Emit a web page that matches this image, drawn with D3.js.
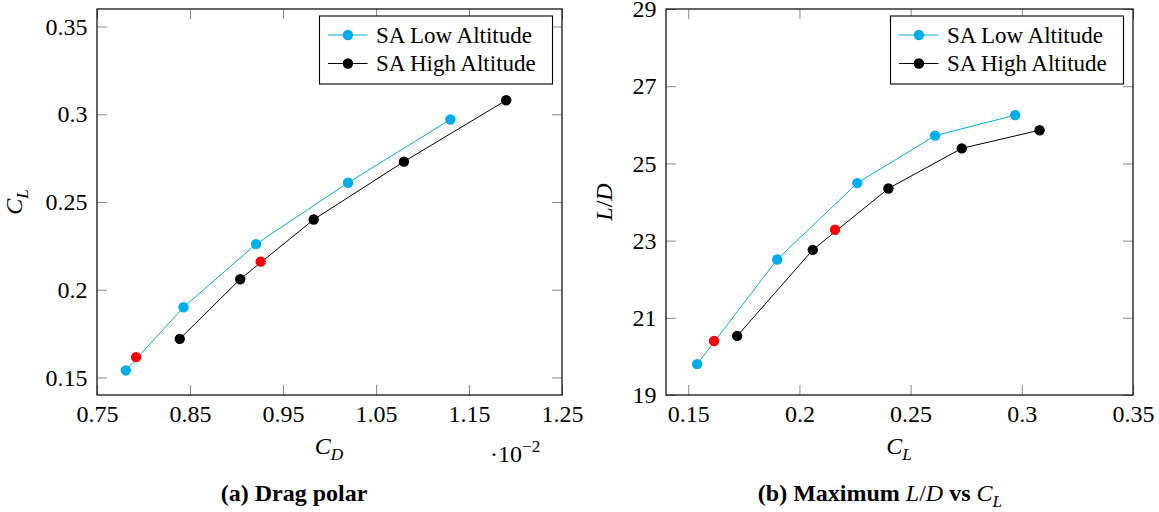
<!DOCTYPE html>
<html><head><meta charset="utf-8">
<script src="https://cdn.jsdelivr.net/npm/d3@7"></script>
<style>
html,body{margin:0;padding:0;background:#fff;}
</style></head><body>
<svg id="chart" width="1159" height="512"></svg>
<script>
// Drag coefficient (x 10^-2), lift coefficient and lift-to-drag ratio per altitude
const cdLow  = [0.781, 0.843, 0.921, 1.020, 1.130];
const clLow  = [0.154, 0.190, 0.226, 0.261, 0.297];
const ldLow  = [19.80, 22.51, 24.49, 25.72, 26.25];
const cdHigh = [0.839, 0.904, 0.983, 1.080, 1.190];
const clHigh = [0.172, 0.206, 0.240, 0.273, 0.308];
const ldHigh = [20.53, 22.76, 24.35, 25.39, 25.86];
// Selected operating points (low altitude, high altitude)
const cdDesign = [0.792, 0.926];
const clDesign = [0.1616, 0.216];
const ldDesign = [20.40, 23.28];

const seriesNames = ["SA Low Altitude", "SA High Altitude"];
const cdTicks = [0.75, 0.85, 0.95, 1.05, 1.15, 1.25];
const cdTickLabels = ["0.75", "0.85", "0.95", "1.05", "1.15", "1.25"];
const clTicks = [0.15, 0.2, 0.25, 0.3, 0.35];
const clTickLabels = ["0.15", "0.2", "0.25", "0.3", "0.35"];
const ldTicks = [19, 21, 23, 25, 27, 29];
const ldTickLabels = ["19", "21", "23", "25", "27", "29"];

const colors = ["#00AEEF", "#000000"];
const designColor = "#FF0000";
const FONT = "\"Liberation Serif\", serif";
const FS = 24;        // tick labels, axis titles, captions
const FS_LEGEND = 23; // legend entries
const svg = d3.select("#chart");

function font(sel, size) {
  return sel.style("font-family", FONT).style("font-size", (size || FS) + "px");
}

function labelFor(ticks, labels) {
  return v => labels[ticks.indexOf(v)];
}

function styleAxis(g) {
  g.attr("font-family", null).attr("font-size", null);
  g.select(".domain").remove();
  g.selectAll(".tick line").attr("stroke", "#8a8a8a").attr("stroke-width", 1);
  g.selectAll(".tick text").attr("fill", "#000").call(font);
}

function drawPanel(o) {
  const x = d3.scaleLinear().domain(o.xDomain).range([o.left, o.right]);
  const y = d3.scaleLinear().domain(o.yDomain).range([o.bottom, o.top]);
  const g = svg.append("g");
  const tk = 10;

  g.append("g").attr("transform", `translate(0,${o.bottom})`)
    .call(d3.axisBottom(x).tickValues(o.xTicks).tickFormat(labelFor(o.xTicks, o.xLabels))
      .tickSizeInner(-tk).tickSizeOuter(0).tickPadding(9.5))
    .call(styleAxis);
  g.append("g").attr("transform", `translate(0,${o.top})`)
    .call(d3.axisTop(x).tickValues(o.xTicks).tickFormat("").tickSizeInner(-tk).tickSizeOuter(0))
    .call(styleAxis);
  g.append("g").attr("transform", `translate(${o.left},0)`)
    .call(d3.axisLeft(y).tickValues(o.yTicks).tickFormat(labelFor(o.yTicks, o.yLabels))
      .tickSizeInner(-tk).tickSizeOuter(0).tickPadding(9.5))
    .call(styleAxis);
  g.append("g").attr("transform", `translate(${o.right},0)`)
    .call(d3.axisRight(y).tickValues(o.yTicks).tickFormat("").tickSizeInner(-tk).tickSizeOuter(0))
    .call(styleAxis);

  g.append("rect")
    .attr("x", o.left).attr("y", o.top)
    .attr("width", o.right - o.left).attr("height", o.bottom - o.top)
    .attr("fill", "none").attr("stroke", "#000").attr("stroke-width", 1.2);

  const line = d3.line().x(d => x(d[0])).y(d => y(d[1]));
  o.series.forEach((s, i) => {
    const pts = d3.zip(s.xs, s.ys);
    g.append("path").datum(pts).attr("d", line)
      .attr("fill", "none").attr("stroke", colors[i]).attr("stroke-width", 1);
    g.append("g").selectAll("circle").data(pts).join("circle")
      .attr("cx", d => x(d[0])).attr("cy", d => y(d[1])).attr("r", 5.2)
      .attr("fill", colors[i]);
  });
  g.append("g").selectAll("circle").data(d3.zip(o.design.xs, o.design.ys)).join("circle")
    .attr("cx", d => x(d[0])).attr("cy", d => y(d[1])).attr("r", 5.2)
    .attr("fill", designColor);

  // legend
  const lw = 233, lh = 68;
  const lx = o.right - 9.5 - lw, ly = o.top + 7;
  const lg = g.append("g").attr("transform", `translate(${lx},${ly})`);
  lg.append("rect").attr("width", lw).attr("height", lh)
    .attr("fill", "#fff").attr("stroke", "#000").attr("stroke-width", 1.1);
  seriesNames.forEach((name, i) => {
    const cy = 19 + i * 28.5;
    lg.append("line").attr("x1", 8.5).attr("x2", 48).attr("y1", cy).attr("y2", cy)
      .attr("stroke", colors[i]).attr("stroke-width", 1);
    lg.append("circle").attr("cx", 28.4).attr("cy", cy).attr("r", 5.2).attr("fill", colors[i]);
    lg.append("text").attr("x", 56.5).attr("y", cy + 7.6).call(font, FS_LEGEND).text(name);
  });
  return { x, y, g };
}

// math-style label: array of [text, style] where style in {"", "i", "sub", "sup", "b"}
function richText(parent, parts, attrs) {
  const t = parent.append("text").call(font);
  Object.entries(attrs).forEach(([k, v]) => t.attr(k, v));
  parts.forEach(([s, st]) => {
    const sp = t.append("tspan").text(s);
    if (st === "i") sp.style("font-style", "italic");
    if (st === "b") sp.style("font-weight", "bold");
    if (st === "sub") sp.style("font-style", "italic").style("font-size", (FS * 0.72) + "px").attr("dy", "0.35em");
    if (st === "sup") sp.style("font-size", (FS * 0.72) + "px").attr("dy", "-0.55em");
  });
  return t;
}

// (a) drag polar
drawPanel({
  left: 97, right: 562, top: 9, bottom: 395,
  xDomain: [0.75, 1.25], yDomain: [0.14, 0.36],
  xTicks: cdTicks, xLabels: cdTickLabels, yTicks: clTicks, yLabels: clTickLabels,
  series: [{ xs: cdLow, ys: clLow }, { xs: cdHigh, ys: clHigh }],
  design: { xs: cdDesign, ys: clDesign }
});

// (b) L/D against lift coefficient
drawPanel({
  left: 666, right: 1133, top: 9, bottom: 395,
  xDomain: [0.14, 0.35], yDomain: [19, 29],
  xTicks: clTicks, xLabels: clTickLabels, yTicks: ldTicks, yLabels: ldTickLabels,
  series: [{ xs: clLow, ys: ldLow }, { xs: clHigh, ys: ldHigh }],
  design: { xs: clDesign, ys: ldDesign }
});

// axis titles
richText(svg, [["C", "i"], ["L", "sub"]],
  { transform: "translate(22,202) rotate(-90)", "text-anchor": "middle" });
richText(svg, [["C", "i"], ["D", "sub"]], { x: 329, y: 454, "text-anchor": "middle" });
richText(svg, [["\u00B710", ""], ["\u22122", "sup"]], { x: 490, y: 461.5 });
richText(svg, [["L", "i"], ["/", ""], ["D", "i"]],
  { transform: "translate(612,202) rotate(-90)", "text-anchor": "middle" });
richText(svg, [["C", "i"], ["L", "sub"]], { x: 899, y: 453.5, "text-anchor": "middle" });

// captions
richText(svg, [["(a) Drag polar", "b"]], { x: 294, y: 501, "text-anchor": "middle" });
richText(svg, [["(b) Maximum ", "b"], ["L", "i"], ["/", ""], ["D", "i"], [" vs ", "b"], ["C", "i"], ["L", "sub"]],
  { x: 880, y: 501, "text-anchor": "middle" });
</script>
</body></html>
